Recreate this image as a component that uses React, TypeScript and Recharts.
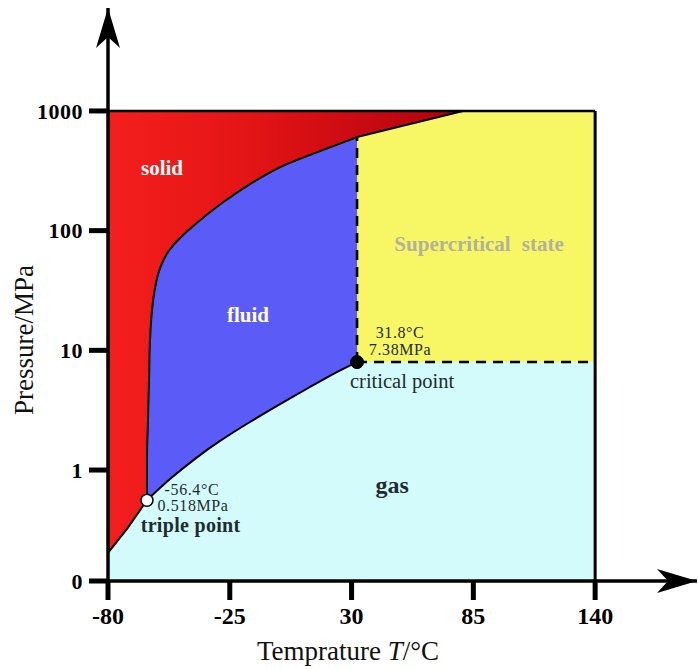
import { ComposedChart, Area, Line, XAxis, YAxis, ReferenceDot, ReferenceLine } from "recharts";

// phase diagram of CO2, pressure in MPa
const SUB_T = [-80, -71, -62.4];
const SUB_P = [0.203, 0.33, 0.56];

const MELT_T = [-62.4, -62.4, -61.93, -61.48, -61.03, -60.13, -58.77, -56.51, -52.9, -47.48, -39.35, -28.51, -15.86, -0.05, 15.75, 32.47];
const MELT_P = [0.56, 1.21, 2.62, 5.65, 12.2, 21.7, 33.1, 48.7, 66.3, 86.7, 118, 170, 245, 354, 462, 605];

const VAP_T = [-62.4, -52.0, -40.7, -29.4, -15.9, -2.3, 11.2, 22.5, 32.47];
const VAP_P = [0.56, 0.84, 1.24, 1.75, 2.52, 3.56, 4.94, 6.46, 7.98];

const EXT_T = [32.47, 80.3];
const EXT_P = [605, 1000];

const TRIPLE = { t: -62.4, p: 0.56 };
const CRITICAL = { t: 32.47, p: 7.98 };

const T_MIN = -80;
const T_MAX = 140;
const P_MAX = 1000;

const X_TICKS = [-80, -25, 30, 85, 140];
const Y_TICK_LABELS = ["0", "1", "10", "100", "1000"];

// log10 position of the "0" tick and of the arrow tips
const Y_MIN = -0.927;
const Y_MAX = 3.86;
const X_END = 186;
const Y_TICKS = [Y_MIN, 0, 1, 2, 3];

const lg = (p: number) => Math.log10(p);
const rows = (ts: number[], ps: number[]) => ts.map((t, i) => ({ t, lp: lg(ps[i]) }));

const subData = rows(SUB_T, SUB_P);
const meltData = rows(MELT_T, MELT_P);
const vapData = rows(VAP_T, VAP_P);
const extData = rows(EXT_T, EXT_P);
const gasData = [...subData, ...vapData.slice(1), { t: T_MAX, lp: lg(CRITICAL.p) }];
const superData = [...extData, { t: T_MAX, lp: lg(P_MAX) }];
const solidData = [
  { t: T_MIN, lp: lg(P_MAX) },
  { t: T_MAX, lp: lg(P_MAX) },
];
const dashV = [
  { t: CRITICAL.t, lp: lg(CRITICAL.p) },
  { t: CRITICAL.t, lp: lg(MELT_P[MELT_P.length - 1]) },
];
const dashH = [
  { t: CRITICAL.t, lp: lg(CRITICAL.p) },
  { t: T_MAX, lp: lg(CRITICAL.p) },
];

const SERIF = "'Liberation Serif', 'Times New Roman', serif";
const INK = "#1e2c30";

function note(key: string, t: number, lp: number, text: string, style: any) {
  return (
    <ReferenceDot
      key={key}
      x={t}
      y={lp}
      r={0}
      shape={(p: any) => (
        <text x={p.cx} y={p.cy} textAnchor="middle" fontFamily={SERIF} {...style}>
          {text}
        </text>
      )}
    />
  );
}

const YTitle = (props: any) => {
  const vb = props.viewBox || { x: 48, y: 8 };
  const x = vb.x - 15;
  const y = vb.y + 332;
  return (
    <text x={x} y={y} transform={`rotate(-90, ${x}, ${y})`} textAnchor="middle" fontFamily={SERIF} fontSize={27} fill="#111">
      Pressure/MPa
    </text>
  );
};

const XTitle = (props: any) => {
  const vb = props.viewBox || { x: 108, y: 581 };
  return (
    <text x={vb.x + 240} y={vb.y + 79} textAnchor="middle" fontFamily={SERIF} fontSize={27} fill="#111">
      Temprature <tspan fontStyle="italic">T</tspan>/°C
    </text>
  );
};

export default function App() {
  return (
    <div style={{ position: "absolute", left: 0, top: 0, width: 698, height: 669, background: "#fff" }}>
      <ComposedChart width={698} height={669} margin={{ top: 8, right: 1, bottom: 40, left: 48 }}>
        <defs>
          <linearGradient id="solidGrad" x1="0" y1="0" x2="1" y2="0">
            <stop offset="0" stopColor="#f41e1e" />
            <stop offset="0.25" stopColor="#e71616" />
            <stop offset="0.5" stopColor="#cc0b12" />
            <stop offset="0.72" stopColor="#b0020c" />
            <stop offset="1" stopColor="#a00008" />
          </linearGradient>
        </defs>
        <XAxis
          type="number"
          dataKey="t"
          domain={[T_MIN, X_END]}
          allowDataOverflow
          ticks={X_TICKS}
          interval={0}
          height={48}
          tickSize={19}
          tickMargin={7}
          axisLine={{ stroke: "#000", strokeWidth: 3.5 }}
          tickLine={{ stroke: "#000", strokeWidth: 5 }}
          tick={{ fill: "#000", fontSize: 24, fontWeight: 700, fontFamily: SERIF }}
          label={XTitle}
        />
        <YAxis
          type="number"
          domain={[Y_MIN, Y_MAX]}
          allowDataOverflow
          ticks={Y_TICKS}
          interval={0}
          width={60}
          tickSize={19}
          tickMargin={6}
          tickFormatter={(_v: number, i: number) => Y_TICK_LABELS[i]}
          axisLine={{ stroke: "#000", strokeWidth: 3.5 }}
          tickLine={{ stroke: "#000", strokeWidth: 5 }}
          tick={{ fill: "#000", fontSize: 22, fontWeight: 700, fontFamily: SERIF, letterSpacing: 0.5 }}
          label={YTitle}
        />

        <Area data={solidData} dataKey="lp" type="linear" baseValue="dataMin" fill="url(#solidGrad)" fillOpacity={1} stroke="none" isAnimationActive={false} />
        <Area data={superData} dataKey="lp" type="linear" baseValue="dataMin" fill="#f7f765" fillOpacity={1} stroke="none" isAnimationActive={false} />
        <Area data={meltData} dataKey="lp" type="linear" baseValue="dataMin" fill="#5b5bf7" fillOpacity={1} stroke="none" isAnimationActive={false} />
        <Area data={gasData} dataKey="lp" type="linear" baseValue="dataMin" fill="#d3fbfb" fillOpacity={1} stroke="none" isAnimationActive={false} />

        <Line data={subData} dataKey="lp" type="linear" stroke="#000" strokeWidth={2} dot={false} activeDot={false} isAnimationActive={false} />
        <Line data={meltData} dataKey="lp" type="monotoneY" stroke="#000" strokeWidth={2} dot={false} activeDot={false} isAnimationActive={false} />
        <Line data={vapData} dataKey="lp" type="natural" stroke="#000" strokeWidth={2} dot={false} activeDot={false} isAnimationActive={false} />
        <Line data={extData} dataKey="lp" type="linear" stroke="#000" strokeWidth={2} dot={false} activeDot={false} isAnimationActive={false} />
        <Line data={dashV} dataKey="lp" type="linear" stroke="#000" strokeWidth={2.6} strokeDasharray="10 7" dot={false} activeDot={false} isAnimationActive={false} />
        <Line data={dashH} dataKey="lp" type="linear" stroke="#000" strokeWidth={2.6} strokeDasharray="10 7" dot={false} activeDot={false} isAnimationActive={false} />

        <ReferenceLine segment={[{ x: T_MIN, y: lg(P_MAX) }, { x: T_MAX, y: lg(P_MAX) }]} stroke="#000" strokeWidth={2.5} />
        <ReferenceLine segment={[{ x: T_MAX, y: Y_MIN }, { x: T_MAX, y: lg(P_MAX) }]} stroke="#000" strokeWidth={3} />

        <ReferenceDot x={TRIPLE.t} y={lg(TRIPLE.p)} r={6} fill="#fff" stroke="#000" strokeWidth={1.5} />
        <ReferenceDot x={CRITICAL.t} y={lg(CRITICAL.p)} r={6.5} fill="#000" stroke="#000" />

        {/* axis arrowheads */}
        <ReferenceDot
          x={X_END}
          y={Y_MIN}
          r={0}
          shape={(p: any) => (
            <path d={`M${p.cx},${p.cy} L${p.cx - 40},${p.cy - 12} L${p.cx - 29},${p.cy} L${p.cx - 40},${p.cy + 12} Z`} fill="#000" />
          )}
        />
        <ReferenceDot
          x={T_MIN}
          y={Y_MAX}
          r={0}
          shape={(p: any) => (
            <path d={`M${p.cx},${p.cy} L${p.cx + 12},${p.cy + 40} L${p.cx},${p.cy + 29} L${p.cx - 12},${p.cy + 40} Z`} fill="#000" />
          )}
        />

        {note("solid", -55.6, 2.464, "solid", { fontSize: 21, fontWeight: 700, fill: "#fff" })}
        {note("fluid", -16.8, 1.236, "fluid", { fontSize: 21, fontWeight: 700, fill: "#fff" })}
        {note("super", 87.6, 1.83, "Supercritical state", { fontSize: 21, fontWeight: 700, fill: "#b3b09c", wordSpacing: 6 })}
        {note("ct", 51.9, 1.103, "31.8°C", { fontSize: 16, letterSpacing: 0.6, fill: INK })}
        {note("cp", 51.9, 0.961, "7.38MPa", { fontSize: 16, letterSpacing: 0.6, fill: INK })}
        {note("crit", 52.8, 0.685, "critical point", { fontSize: 20.5, fill: INK })}
        {note("gas", 48.3, -0.192, "gas", { fontSize: 24, fontWeight: 700, fill: INK })}
        {note("tt", -42.1, -0.209, "-56.4°C", { fontSize: 16, letterSpacing: 0.6, fill: INK })}
        {note("tp", -41.6, -0.343, "0.518MPa", { fontSize: 16, letterSpacing: 0.6, fill: INK })}
        {note("trip", -42.7, -0.518, "triple point", { fontSize: 20, fontWeight: 700, letterSpacing: 0.3, fill: INK })}
      </ComposedChart>
    </div>
  );
}
